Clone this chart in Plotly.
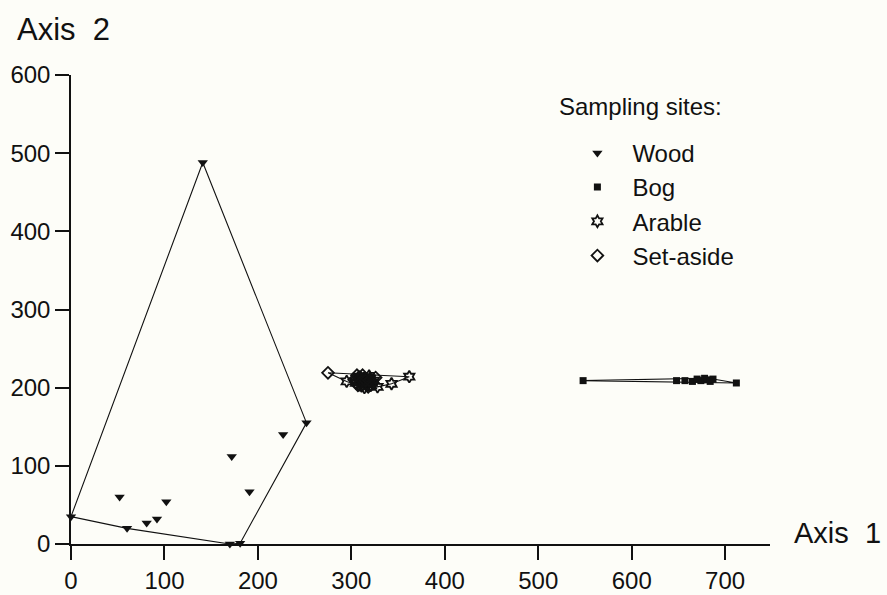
import plotly.graph_objects as go

# Ordination scores (Axis 1, Axis 2) of the sampling sites
wood_x = [0, 52, 60, 81, 92, 102, 141, 170, 181, 172, 191, 227, 252]
wood_y = [35, 60, 20, 27, 32, 54, 488, 0, 1, 112, 67, 140, 155]

bog_x = [548, 648, 657, 665, 670, 674, 678, 681, 684, 687, 712]
bog_y = [209, 209, 209, 208, 211, 209, 212, 210, 208, 211, 206]

arable_x = [295, 328, 343, 362, 305, 309, 312, 315, 318, 321, 324, 308, 314, 319, 311, 316,
            310, 313, 317, 320, 306, 322]
arable_y = [208, 201, 205, 214, 206, 210, 204, 212, 207, 203, 209, 214, 200, 215, 202, 208,
            207, 211, 205, 212, 211, 206]

setaside_x = [275, 303, 307, 310, 313, 317, 320, 323, 326, 312, 306, 318, 315, 309, 319]
setaside_y = [219, 210, 203, 213, 208, 205, 211, 206, 213, 216, 216, 201, 209, 206, 209]

x_ticks = [0, 100, 200, 300, 400, 500, 600, 700]
y_ticks = [0, 100, 200, 300, 400, 500, 600]

INK = "#111111"
PAPER = "#fdfdf8"
FONT = "Liberation Sans"


def hull(xs, ys):
    """Closed convex hull (monotone chain) of a point set."""
    pts = sorted(set(zip(xs, ys)))

    def cross(o, a, b):
        return (a[0] - o[0]) * (b[1] - o[1]) - (a[1] - o[1]) * (b[0] - o[0])

    lower, upper = [], []
    for p in pts:
        while len(lower) >= 2 and cross(lower[-2], lower[-1], p) <= 0:
            lower.pop()
        lower.append(p)
    for p in reversed(pts):
        while len(upper) >= 2 and cross(upper[-2], upper[-1], p) <= 0:
            upper.pop()
        upper.append(p)
    ring = lower[:-1] + upper[:-1]
    ring.append(ring[0])
    return [p[0] for p in ring], [p[1] for p in ring]


fig = go.Figure()

# Envelopes around each habitat group
groups = [
    (wood_x, wood_y),
    (bog_x, bog_y),
    (arable_x + setaside_x, arable_y + setaside_y),
]
for gx, gy in groups:
    hx, hy = hull(gx, gy)
    fig.add_trace(go.Scatter(x=hx, y=hy, mode="lines",
                             line=dict(color=INK, width=1.1),
                             showlegend=False, hoverinfo="skip"))

fig.add_trace(go.Scatter(x=wood_x, y=wood_y, mode="markers", name="Wood",
                         marker=dict(symbol="triangle-down", size=9, color=INK)))
fig.add_trace(go.Scatter(x=bog_x, y=bog_y, mode="markers", name="Bog",
                         marker=dict(symbol="square", size=7, color=INK)))
fig.add_trace(go.Scatter(x=arable_x, y=arable_y, mode="markers", name="Arable",
                         marker=dict(symbol="hexagram-open", size=9, color=INK,
                                     line=dict(width=1.8, color=INK))))
fig.add_trace(go.Scatter(x=setaside_x, y=setaside_y, mode="markers", name="Set-aside",
                         marker=dict(symbol="diamond-open", size=9, color=INK,
                                     line=dict(width=1.8, color=INK))))

fig.update_traces(cliponaxis=False)

axis_common = dict(
    showgrid=False, zeroline=False, showline=True, linecolor=INK, linewidth=1.5,
    ticks="outside", ticklen=14, tickwidth=1.5, tickcolor=INK, automargin=False,
    tickfont=dict(family=FONT, size=24, color=INK),
)

fig.update_xaxes(range=[0, 748], tickvals=x_ticks, ticktext=[str(v) for v in x_ticks],
                 **axis_common)
fig.update_yaxes(range=[0, 600], tickvals=y_ticks, ticktext=[str(v) for v in y_ticks],
                 **axis_common)

fig.add_annotation(text="Axis  2", xref="paper", yref="paper", x=-0.08, y=1.097,
                   xanchor="left", yanchor="middle", showarrow=False,
                   font=dict(family=FONT, size=31, color=INK))
fig.add_annotation(text="Axis  1", xref="paper", yref="paper", x=1.162, y=0.023,
                   xanchor="right", yanchor="middle", showarrow=False,
                   font=dict(family=FONT, size=29, color=INK))
fig.add_annotation(text="Sampling sites:", xref="paper", yref="paper", x=0.695, y=0.932,
                   xanchor="left", yanchor="middle", showarrow=False,
                   font=dict(family=FONT, size=24, color=INK))

fig.update_layout(
    width=887, height=595,
    margin=dict(l=71, r=117, t=75, b=51),
    paper_bgcolor=PAPER, plot_bgcolor=PAPER,
    font=dict(family=FONT, color=INK),
    legend=dict(
        font=dict(family=FONT, size=24, color=INK),
        x=0.703, y=0.881, xanchor="left", yanchor="top",
        bgcolor="rgba(0,0,0,0)", itemwidth=60,
    ),
)

fig.write_html("out.html")
